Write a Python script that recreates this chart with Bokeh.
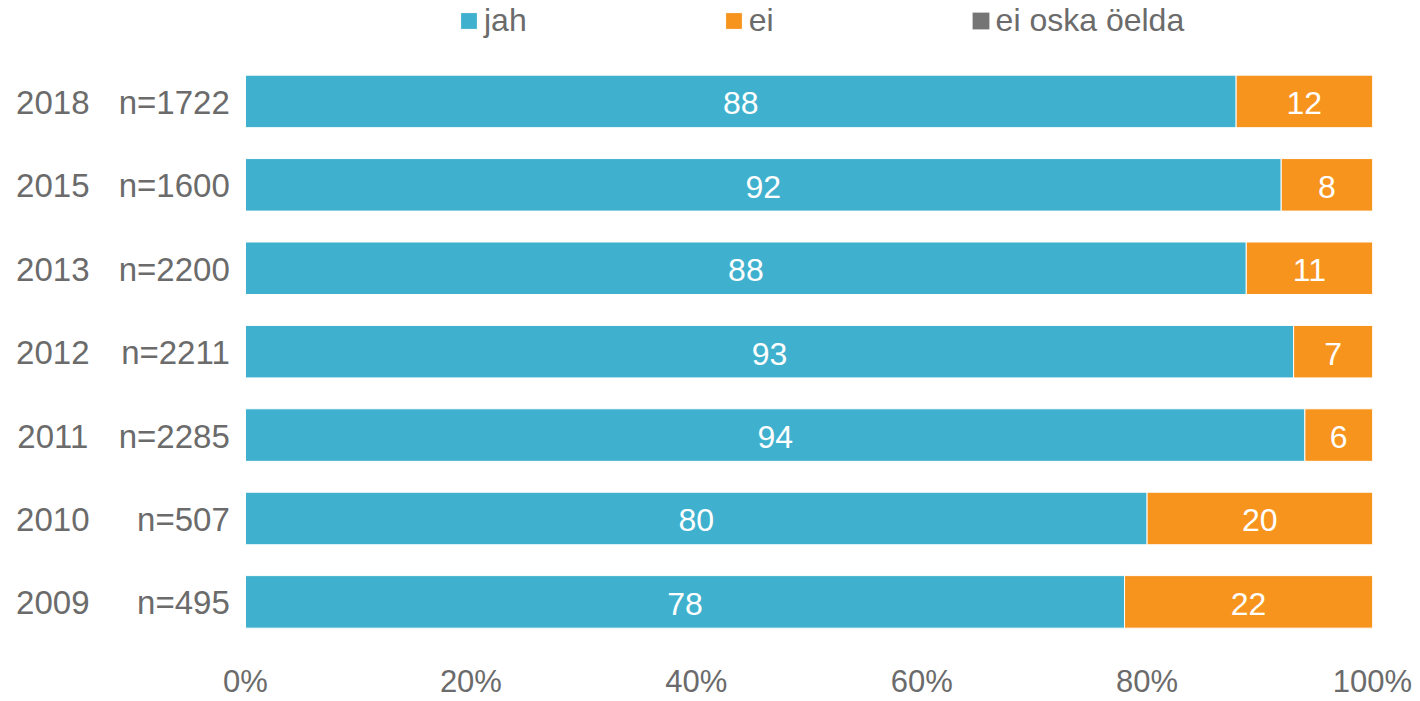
from bokeh.plotting import figure
from bokeh.models import ColumnDataSource, FixedTicker, PrintfTickFormatter, Legend, LegendItem, Range1d
from bokeh.core.properties import value
from bokeh.embed import file_html
from bokeh.resources import INLINE

# ---- data (top row first) ----
years = ["2018", "2015", "2013", "2012", "2011", "2010", "2009"]
n_labels = ["n=1722", "n=1600", "n=2200", "n=2211", "n=2285", "n=507", "n=495"]
jah = [87.9, 91.9, 88.8, 93.0, 94.0, 80.0, 78.0]
ei = [12.1, 8.1, 11.2, 7.0, 6.0, 20.0, 22.0]
dkn = [0, 0, 0, 0, 0, 0, 0]
jah_labels = ["88", "92", "88", "93", "94", "80", "78"]
ei_labels = ["12", "8", "11", "7", "6", "20", "22"]
series_names = ["jah", "ei", "ei oska öelda"]
colors = ["#3FB1CE", "#F7941D", "#757575"]
x_ticks = [0, 20, 40, 60, 80, 100]

FONT = "Liberation Sans"
GRAY = "#6b6b6b"

nrows = len(years)
ypos = [nrows - 1 - i for i in range(nrows)]
ei_left = jah
ei_right = [a + b for a, b in zip(jah, ei)]
dkn_right = [a + b for a, b in zip(ei_right, dkn)]

src = ColumnDataSource(dict(
    y=ypos, year=years, n=n_labels,
    jah=jah, ei_left=ei_left, ei_right=ei_right, dkn_right=dkn_right,
    jah_mid=[v / 2 for v in jah],
    ei_mid=[a + b / 2 for a, b in zip(jah, ei)],
    jah_lab=jah_labels, ei_lab=ei_labels,
))

p = figure(width=1420, height=701, output_backend="svg", toolbar_location=None,
           x_range=Range1d(-21.74, 100), y_range=Range1d(-0.367, 7.21),
           min_border_left=0, min_border_right=48, min_border_top=0, min_border_bottom=62)

bh = 0.63
r_jah = p.hbar(y="y", left=0, right="jah", height=bh, source=src,
               fill_color=colors[0], line_color="white", line_width=1)
r_ei = p.hbar(y="y", left="ei_left", right="ei_right", height=bh, source=src,
              fill_color=colors[1], line_color="white", line_width=1)
r_dkn = p.hbar(y="y", left="ei_right", right="dkn_right", height=bh, source=src,
               fill_color=colors[2], line_color=None)

p.text(x="jah_mid", y="y", text="jah_lab", source=src, text_align="center",
       text_baseline="middle", text_color="white", text_font=value(FONT),
       text_font_size="32px", y_offset=2)
p.text(x="ei_mid", y="y", text="ei_lab", source=src, text_align="center",
       text_baseline="middle", text_color="white", text_font=value(FONT),
       text_font_size="32px", y_offset=2)
p.text(x=-17.1, y="y", text="year", source=src, text_align="center",
       text_baseline="middle", text_color=GRAY, text_font=value(FONT),
       text_font_size="33px", y_offset=1)
p.text(x=-1.4, y="y", text="n", source=src, text_align="right",
       text_baseline="middle", text_color=GRAY, text_font=value(FONT),
       text_font_size="33px", y_offset=1)

p.yaxis.visible = False
p.xgrid.visible = False
p.ygrid.visible = False
p.outline_line_color = None
p.xaxis.ticker = FixedTicker(ticks=x_ticks)
p.xaxis.formatter = PrintfTickFormatter(format="%d%%")
p.xaxis.axis_line_color = None
p.xaxis.major_tick_line_color = None
p.xaxis.minor_tick_line_color = None
p.xaxis.major_label_standoff = 25
p.xaxis.major_label_text_font = FONT
p.xaxis.major_label_text_font_size = "31px"
p.xaxis.major_label_text_color = GRAY

legend = Legend(items=[LegendItem(label=series_names[0], renderers=[r_jah]),
                       LegendItem(label=series_names[1], renderers=[r_ei]),
                       LegendItem(label=series_names[2], renderers=[r_dkn])],
                orientation="horizontal", location=(458, 593),
                glyph_width=21, glyph_height=21, label_standoff=5, spacing=196,
                padding=0, margin=0, border_line_alpha=0, background_fill_alpha=0,
                label_text_font=FONT, label_text_font_size="32px",
                label_text_color=GRAY)
p.add_layout(legend, "center")

open("out.html", "w").write(file_html(p, INLINE))
